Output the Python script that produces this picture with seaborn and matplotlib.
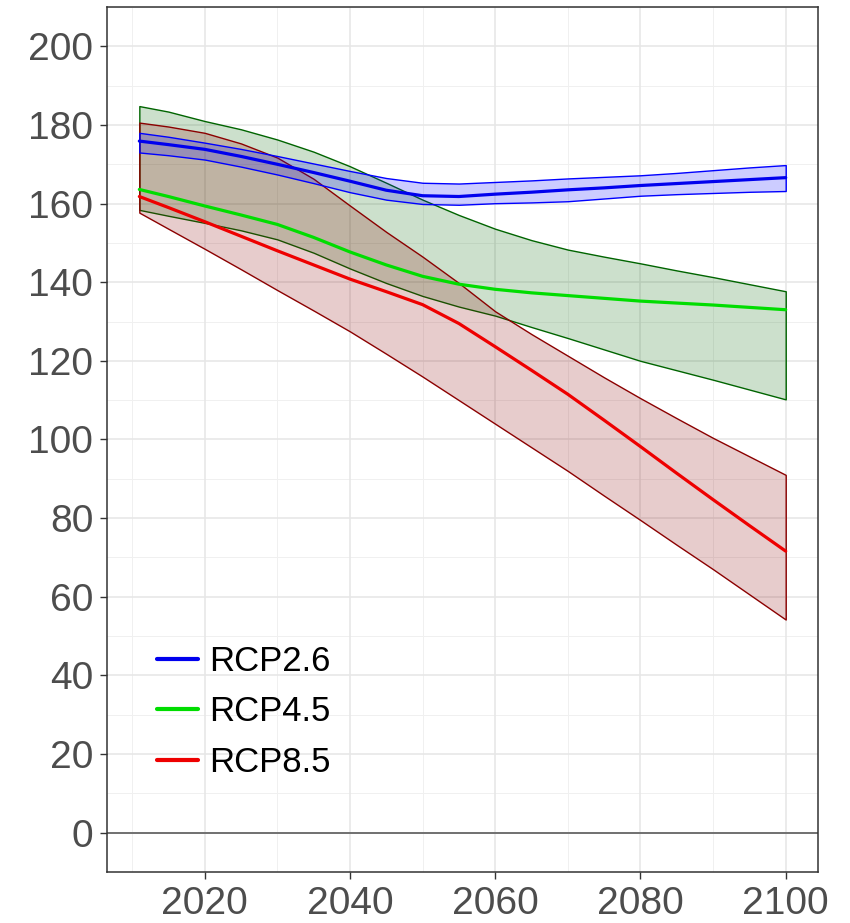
import numpy as np
import pandas as pd
import matplotlib
matplotlib.use("Agg")
import matplotlib.pyplot as plt
import seaborn as sns

years = [2011, 2015, 2020, 2025, 2030, 2035, 2040, 2045, 2050, 2055,
         2060, 2065, 2070, 2075, 2080, 2085, 2090, 2095, 2100]

rcp26_mean = [175.9, 175.0, 173.8, 172.0, 170.0, 167.9, 165.7, 163.4, 162.0, 161.8,
              162.4, 162.9, 163.5, 164.0, 164.6, 165.1, 165.6, 166.1, 166.6]
rcp26_high = [178.0, 177.0, 175.5, 173.9, 172.1, 170.2, 168.3, 166.5, 165.3, 165.1,
              165.5, 165.9, 166.4, 166.8, 167.2, 167.8, 168.5, 169.2, 169.8]
rcp26_low = [173.0, 172.3, 171.2, 169.4, 167.4, 165.2, 162.9, 161.0, 159.9, 159.7,
             160.1, 160.3, 160.6, 161.3, 162.0, 162.4, 162.7, 163.0, 163.2]

rcp45_mean = [163.6, 161.8, 159.4, 157.1, 154.7, 151.4, 147.7, 144.4, 141.5, 139.5,
              138.2, 137.3, 136.6, 135.9, 135.2, 134.7, 134.2, 133.6, 133.0]
rcp45_high = [184.8, 183.4, 181.0, 178.9, 176.3, 173.2, 169.5, 165.3, 161.0, 157.1,
              153.6, 150.7, 148.3, 146.5, 144.8, 143.0, 141.3, 139.5, 137.7]
rcp45_low = [158.4, 156.9, 155.1, 153.2, 150.9, 147.5, 143.5, 139.8, 136.5, 133.8,
             131.5, 128.6, 125.8, 122.9, 120.0, 117.6, 115.2, 112.7, 110.2]

rcp85_mean = [161.8, 159.0, 155.4, 151.7, 148.0, 144.4, 140.8, 137.6, 134.3, 129.5,
              123.6, 117.6, 111.5, 104.9, 98.2, 91.4, 84.7, 78.1, 71.6]
rcp85_high = [180.6, 179.6, 178.0, 175.3, 171.7, 166.3, 159.5, 152.8, 146.5, 139.8,
              132.6, 126.8, 121.3, 115.8, 110.5, 105.4, 100.4, 95.7, 91.0]
rcp85_low = [157.7, 153.6, 148.5, 143.3, 138.0, 132.8, 127.5, 121.8, 116.0, 110.0,
             104.0, 98.0, 92.0, 85.7, 79.5, 73.2, 67.0, 60.6, 54.2]

scenarios = ["RCP2.6", "RCP4.5", "RCP8.5"]
x_ticks = [2020, 2040, 2060, 2080, 2100]
y_ticks = [0, 20, 40, 60, 80, 100, 120, 140, 160, 180, 200]

means = [rcp26_mean, rcp45_mean, rcp85_mean]
lows = [rcp26_low, rcp45_low, rcp85_low]
highs = [rcp26_high, rcp45_high, rcp85_high]

line_colors = {"RCP2.6": "#0000EE", "RCP4.5": "#00DD00", "RCP8.5": "#EE0000"}
ribbon_colors = {"RCP2.6": "#0000FF", "RCP4.5": "#006400", "RCP8.5": "#8B0000"}

df = pd.concat([
    pd.DataFrame({"year": years, "value": m, "scenario": s})
    for s, m in zip(scenarios, means)
], ignore_index=True)

sns.set_theme(style="white")
plt.rcParams["font.family"] = ["Liberation Sans", "DejaVu Sans"]

fig = plt.figure(figsize=(8.5, 9.23), dpi=100)
ax = fig.add_axes([0.1259, 0.0553, 0.8365, 0.9371])

# grid
for v in [2010, 2030, 2050, 2070, 2090]:
    ax.axvline(v, color="#F0F0F0", lw=0.7, zorder=0)
for v in range(10, 211, 20):
    ax.axhline(v, color="#F0F0F0", lw=0.7, zorder=0)
for v in x_ticks:
    ax.axvline(v, color="#E6E6E6", lw=1.1, zorder=0)
for v in y_ticks:
    ax.axhline(v, color="#E6E6E6", lw=1.1, zorder=0)

ax.axhline(0, color="#707070", lw=1.4, zorder=1)

# ribbons
order = ["RCP4.5", "RCP8.5", "RCP2.6"]
for s in order:
    i = scenarios.index(s)
    c = ribbon_colors[s]
    ax.fill_between(years, lows[i], highs[i], facecolor=matplotlib.colors.to_rgba(c, 0.2),
                    edgecolor=c, linewidth=1.0, zorder=2)

sns.lineplot(data=df, x="year", y="value", hue="scenario", hue_order=scenarios,
             palette=line_colors, linewidth=2.3, ax=ax, zorder=3)

ax.set_xlim(2006.55, 2104.45)
ax.set_ylim(-10, 210)
ax.set_xticks(x_ticks)
ax.set_yticks(y_ticks)
ax.set_xlabel("")
ax.set_ylabel("")
ax.tick_params(axis="both", which="major", length=5, width=1.0, color="#333333",
               labelsize=28, labelcolor="#4D4D4D", pad=5, bottom=True, left=True)
for sp in ax.spines.values():
    sp.set_color("#333333")
    sp.set_linewidth(1.1)

leg = ax.legend(loc="center left", bbox_to_anchor=(0.07, 0.185), frameon=False,
                fontsize=25, handlelength=1.2, handletextpad=0.3, labelspacing=0.5,
                borderpad=0, borderaxespad=0, title=None)
for line in leg.get_lines():
    line.set_linewidth(3)
for t in leg.get_texts():
    t.set_color("black")

fig.savefig("out.png", dpi=100)
